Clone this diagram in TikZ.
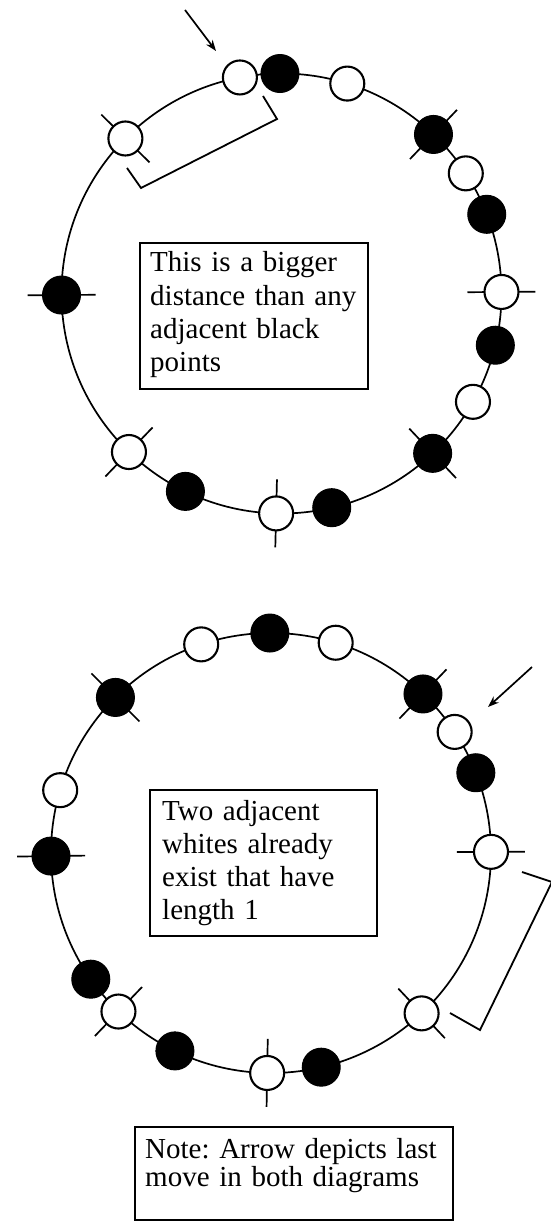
\documentclass[tikz,border=0pt]{standalone}
\usepackage{fontspec}
\setmainfont{Liberation Serif}
\usetikzlibrary{calc,arrows.meta}
\frenchspacing
\begin{document}
\begin{tikzpicture}[x=1pt,y=1pt,
  dot/.style={circle,draw=black,inner sep=0pt},
  ring/.style={line width=1.7pt},
  tickline/.style={line width=1.7pt},
  boxline/.style={line width=2pt},
  brk/.style={line width=1.8pt},
  arr/.style={line width=1.7pt,-{Stealth[length=11pt,width=8pt]}},
  txt/.style={anchor=base west,align=left,inner sep=0pt,text width=240pt,font=\fontsize{29}{33.3}\selectfont}]
\useasboundingbox (0,0) rectangle (550,-1222);
% ---------------- top diagram ----------------
\coordinate (ct) at (281.5,-293.5);
\foreach \a in {46.3,0.4,-46.6,-91.4,-133.9,180.4,135.2}
  \draw[tickline] ($(ct)+(\a:186pt)$) -- ($(ct)+(\a:254pt)$);
\draw[ring] (ct) circle[radius=220pt];
\foreach \a/\c/\m/\w [count=\i] in {100.9/white/34/2.1, 90.4/black/38/1, 72.6/white/34/2.1, 46.3/black/38/1,
  33.1/white/34/2.1, 21.1/black/38/1, 0.4/white/34/2.1, -13.6/black/38/1, -29.5/white/34/2.1,
  -46.6/black/38/1, -76.8/black/38/1, -91.4/white/34/2.1, -115.9/black/38/1, -133.9/white/34/2.1,
  180.4/black/38/1, 135.2/white/34/2.1}
  \node[dot,fill=\c,minimum size=\m pt,line width=\w pt] (t\i) at ($(ct)+(\a:220pt)$) {};
\coordinate (ta0) at (185,-10);
\coordinate (ta1) at (216,-51);
\draw[arr] (ta0) -- (ta1);
\draw[brk] (263,-96) -- (277,-119) -- (141,-188) -- (127,-168);
\draw[boxline] (140,-243) rectangle (368,-389);
\node[txt] (tx1) at (150,-272) {This is a bigger\\distance than any\\adjacent black\\points};
% ---------------- bottom diagram ----------------
\coordinate (cb) at (271,-853);
\foreach \a in {46.3,0.3,-46.8,-91,-133.9,180.8,135}
  \draw[tickline] ($(cb)+(\a:186pt)$) -- ($(cb)+(\a:254pt)$);
\draw[ring] (cb) circle[radius=220pt];
\foreach \a/\c/\m/\w [count=\i] in {108.5/white/34/2.1, 90.3/black/38/1, 72.9/white/34/2.1, 46.3/black/38/1,
  33.4/white/34/2.1, 21.4/black/38/1, 0.3/white/34/2.1, -46.8/white/34/2.1, -76.8/black/38/1,
  -91/white/34/2.1, -115.9/black/38/1, -145/black/38/1, -133.9/white/34/2.1,
  180.8/black/38/1, 163.4/white/34/2.1, 135/black/38/1}
  \node[dot,fill=\c,minimum size=\m pt,line width=\w pt] (b\i) at ($(cb)+(\a:220pt)$) {};
\coordinate (ba0) at (532,-667);
\coordinate (ba1) at (488,-707);
\draw[arr] (ba0) -- (ba1);
\draw[brk] (522,-872) -- (552,-882) -- (480,-1030) -- (450,-1013);
\draw[boxline] (150,-790) rectangle (377,-936);
\node[txt] (tx2) at (162,-820) {Two adjacent\\whites already\\exist that have\\length 1};
% ---------------- note ----------------
\draw[boxline] (135,-1127) rectangle (453,-1220);
\node[txt,text width=310pt,font=\fontsize{29}{28.5}\selectfont] (tx3) at (145,-1158) {Note: Arrow depicts last\\move in both diagrams};
\end{tikzpicture}
\end{document}
